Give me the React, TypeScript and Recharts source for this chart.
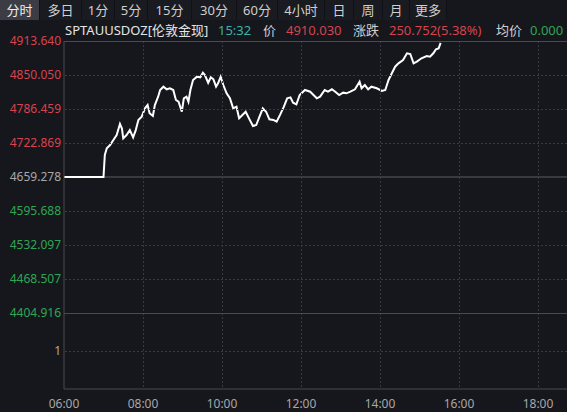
import { Line, LineChart, ReferenceLine, XAxis, YAxis } from 'recharts'

const times = [
  '06:00', '07:00', '07:02', '07:05', '07:10', '07:15', '07:20', '07:25', '07:28', '07:30',
  '07:35', '07:40', '07:45', '07:49', '07:53', '07:58', '08:03', '08:07', '08:10', '08:15',
  '08:18', '08:23', '08:26', '08:31', '08:36', '08:41', '08:46', '08:50', '08:54', '08:59',
  '09:02', '09:06', '09:09', '09:12', '09:16', '09:22', '09:27', '09:31', '09:34', '09:39',
  '09:43', '09:47', '09:51', '09:54', '09:58', '10:02', '10:07', '10:12', '10:17', '10:22',
  '10:26', '10:31', '10:36', '10:41', '10:47', '10:52', '10:57', '11:02', '11:07', '11:12',
  '11:18', '11:23', '11:28', '11:34', '11:39', '11:44', '11:48', '11:53', '11:58', '12:06',
  '12:14', '12:19', '12:24', '12:29', '12:36', '12:41', '12:47', '12:52', '12:58', '13:04',
  '13:09', '13:15', '13:22', '13:29', '13:32', '13:37', '13:42', '13:47', '13:55', '14:03',
  '14:08', '14:13', '14:18', '14:23', '14:28', '14:35', '14:41', '14:46', '14:51', '14:56',
  '15:03', '15:11', '15:16', '15:21', '15:25', '15:29', '15:31', '15:32',
]

const prices = [
  4659.278, 4659.278, 4700.4, 4712.9, 4719.0, 4728.5, 4737.8, 4758.4, 4750.0, 4731.6,
  4737.8, 4747.0, 4733.5, 4747.0, 4766.0, 4772.0, 4787.7, 4793.9, 4778.4, 4773.4,
  4793.9, 4809.5, 4822.0, 4828.2, 4823.3, 4825.2, 4822.0, 4803.3, 4800.1, 4781.4,
  4806.5, 4809.5, 4800.1, 4822.0, 4840.7, 4846.9, 4845.7, 4854.4, 4850.0, 4835.6,
  4845.7, 4842.0, 4828.2, 4834.5, 4846.9, 4831.3, 4815.8, 4806.5, 4787.7, 4790.8,
  4769.0, 4775.2, 4781.4, 4769.0, 4754.6, 4756.5, 4772.0, 4787.7, 4781.4, 4767.2,
  4766.0, 4762.7, 4775.0, 4790.8, 4806.5, 4808.3, 4798.2, 4795.0, 4812.6, 4822.0,
  4818.8, 4812.6, 4806.5, 4809.5, 4822.0, 4818.8, 4823.3, 4818.8, 4812.6, 4817.0,
  4815.8, 4818.8, 4823.3, 4837.5, 4825.2, 4831.3, 4823.3, 4828.2, 4825.2, 4820.1,
  4822.0, 4840.7, 4853.2, 4865.6, 4871.9, 4878.1, 4890.6, 4889.3, 4871.9, 4875.0,
  4881.3, 4885.6, 4884.3, 4890.6, 4898.1, 4899.9, 4906.2, 4910.03,
]

const priceTicks = [
  4404.916, 4468.507, 4532.097, 4595.688, 4659.278, 4722.869, 4786.459, 4850.05, 4913.64,
]
const prevClose = 4659.278
const hourTicks = [6, 8, 10, 12, 14, 16, 18]

const tabs = ['分时', '多日', '1分', '5分', '15分', '30分', '60分', '4小时', '日', '周', '月', '更多']
const tabWidths = [40, 42, 33, 33, 44, 45, 41, 47, 29, 29, 27, 37]

const BG = '#16171d'
const GRID = '#383a43'
const AXIS = '#474953'
const RED = '#d8434d'
const GREEN = '#2fa654'
const GRAY = '#a8a8a8'
const FONT = "'Noto Sans', 'Noto Sans CJK SC', sans-serif"

const toHour = (s: string) => {
  const [h, m] = s.split(':').map(Number)
  return h + m / 60
}

const data = times.map((t, i) => ({ t: toHour(t), v: prices[i] }))

// panel geometry (page px); plot spans 06:00..20:00, cut off by the window
const CHART_W = 627
const AXIS_W = 64
const PLOT_TOP = 41
const PRICE_H = 272
const VOL_TOP = PLOT_TOP + PRICE_H
const VOL_H = 76
const X_MIN = 6
const X_MAX = 20
const PX_PER_H = (CHART_W - 10 - AXIS_W) / (X_MAX - X_MIN)
const P_MIN = priceTicks[0]
const P_MAX = priceTicks[priceTicks.length - 1]

const gx = (h: number) => AXIS_W + (h - X_MIN) * PX_PER_H
const gy = (p: number) => PLOT_TOP + ((P_MAX - p) / (P_MAX - P_MIN)) * PRICE_H

function PriceTick({ x, y, payload }: any) {
  const v = payload.value
  const fill = v > prevClose + 0.01 ? RED : v < prevClose - 0.01 ? GREEN : GRAY
  return (
    <text x={x} y={y} dy={4} textAnchor="end" fill={fill} fontSize={12} fontFamily={FONT}>
      {v.toFixed(3)}
    </text>
  )
}

function Header() {
  const items: Array<[number, string, string]> = [
    [65, 'SPTAUUSDOZ[伦敦金现]', '#e4e4e4'],
    [218, '15:32', '#3bb3a9'],
    [263, '价', '#d0d0d0'],
    [286, '4910.030', RED],
    [353, '涨跌', '#d0d0d0'],
    [389, '250.752(5.38%)', RED],
    [496, '均价', '#d0d0d0'],
    [530, '0.000', GREEN],
  ]
  return (
    <>
      {items.map(([left, text, color]) => (
        <span
          key={text}
          style={{
            position: 'absolute',
            left,
            top: 20,
            height: 20,
            lineHeight: '20px',
            fontSize: 13,
            color,
            whiteSpace: 'nowrap',
          }}
        >
          {text}
        </span>
      ))}
    </>
  )
}

function Toolbar() {
  let left = 0
  return (
    <>
      {tabs.map((tab, i) => {
        const w = tabWidths[i]
        const el = (
          <div
            key={tab}
            style={{
              position: 'absolute',
              left,
              top: 0,
              width: w,
              height: 20,
              lineHeight: '20px',
              textAlign: 'center',
              fontSize: 13,
              color: i === 0 ? '#eeeeee' : '#cfcfcf',
              background: i === 0 ? '#3c3d44' : '#1a1b21',
              borderRight: '1px solid #101116',
              boxSizing: 'border-box',
            }}
          >
            {tab}
          </div>
        )
        left += w
        return el
      })}
    </>
  )
}

const dotsH = `repeating-linear-gradient(90deg, ${GRID} 0 2px, transparent 2px 4px)`
const dotsV = `repeating-linear-gradient(180deg, ${GRID} 0 2px, transparent 2px 4px)`

// dotted grid, laid over the charts and placed with the same tick arrays
function Grid() {
  const hLines = priceTicks
    .filter((p) => p !== P_MIN && p !== P_MAX && p !== prevClose)
    .map((p) => Math.round(gy(p)))
  hLines.push(VOL_TOP + VOL_H / 2)
  const base = { position: 'absolute' as const, pointerEvents: 'none' as const, zIndex: 5 }
  return (
    <>
      {hLines.map((y) => (
        <div key={`h${y}`} style={{ ...base, left: AXIS_W + 1, top: y, width: 567, height: 1, background: dotsH }} />
      ))}
      {hourTicks.slice(1).map((h) => (
        <div
          key={`v${h}`}
          style={{ ...base, left: Math.round(gx(h)), top: PLOT_TOP, width: 1, height: PRICE_H + VOL_H, background: dotsV }}
        />
      ))}
      {[PLOT_TOP, VOL_TOP].map((y) => (
        <div key={`s${y}`} style={{ ...base, left: AXIS_W, top: y, width: 567, height: 1, background: AXIS }} />
      ))}
    </>
  )
}

export default function App() {
  return (
    <div
      style={{
        position: 'absolute',
        left: 0,
        top: 0,
        width: 567,
        height: 412,
        overflow: 'hidden',
        background: BG,
        fontFamily: FONT,
      }}
    >
      <Toolbar />
      <Header />

      {/* price panel */}
      <div style={{ position: 'absolute', left: 0, top: PLOT_TOP - 10 }}>
        <LineChart
          width={CHART_W}
          height={PRICE_H + 20}
          data={data}
          margin={{ top: 10, right: 10, bottom: 9, left: 0 }}
        >
          <XAxis
            dataKey="t"
            type="number"
            domain={[X_MIN, X_MAX]}
            ticks={hourTicks}
            height={1}
            tick={false}
            tickLine={false}
            axisLine={false}
          />
          <YAxis
            type="number"
            domain={[P_MIN, P_MAX]}
            ticks={priceTicks}
            width={AXIS_W}
            tickSize={0}
            tickMargin={3}
            tickLine={false}
            axisLine={{ stroke: AXIS }}
            tick={<PriceTick />}
          />
          <ReferenceLine y={prevClose} stroke="#5a5c66" />
          <Line
            type="linear"
            dataKey="v"
            stroke="#ffffff"
            strokeWidth={2}
            dot={false}
            isAnimationActive={false}
          />
        </LineChart>
      </div>

      {/* volume panel (empty for spot gold) */}
      <div style={{ position: 'absolute', left: 0, top: VOL_TOP - 10 }}>
        <LineChart
          width={CHART_W}
          height={VOL_H + 40}
          data={data}
          margin={{ top: 10, right: 10, bottom: 0, left: 0 }}
        >
          <XAxis
            dataKey="t"
            type="number"
            domain={[X_MIN, X_MAX]}
            ticks={hourTicks}
            height={30}
            tickLine={false}
            tickSize={0}
            tickMargin={10}
            axisLine={{ stroke: AXIS }}
            tick={{ fill: GRAY, fontSize: 12, fontFamily: FONT }}
            tickFormatter={(v: number) => `${String(v).padStart(2, '0')}:00`}
          />
          <YAxis
            yAxisId="vol"
            type="number"
            domain={[0, 2]}
            allowDataOverflow
            ticks={[1]}
            width={AXIS_W}
            tickSize={0}
            tickMargin={3}
            tickLine={false}
            axisLine={{ stroke: AXIS }}
            tick={{ fill: GRAY, fontSize: 12, fontFamily: FONT }}
          />
        </LineChart>
      </div>

      <Grid />
    </div>
  )
}
